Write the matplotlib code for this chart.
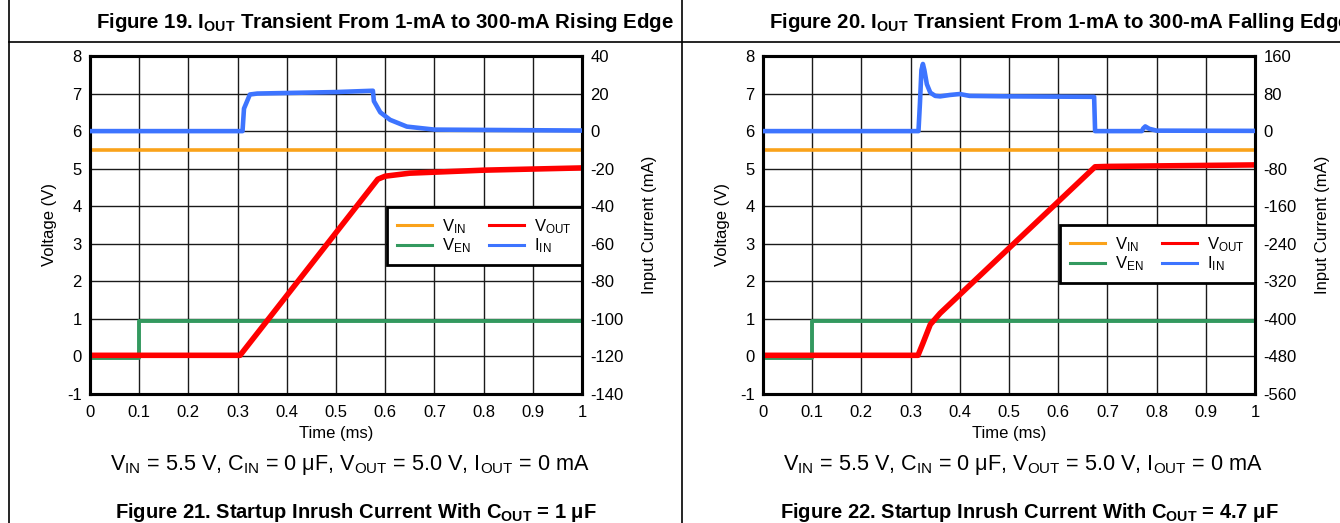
import matplotlib
matplotlib.use("Agg")
import matplotlib.pyplot as plt
from matplotlib.lines import Line2D

plt.rcParams['font.family'] = ['Liberation Sans', 'DejaVu Sans']
plt.rcParams['mathtext.fontset'] = 'custom'
plt.rcParams['mathtext.rm'] = 'Liberation Sans'
plt.rcParams['mathtext.it'] = 'Liberation Sans:italic'
plt.rcParams['mathtext.bf'] = 'Liberation Sans:bold'
plt.rcParams['axes.unicode_minus'] = False

# ---------------- data ----------------
# Figure 21 (C_OUT = 1 uF)
t_vin_21 = [0.0, 1.0]
vin_21 = [5.5, 5.5]
t_ven_21 = [0.0, 0.1, 0.1, 1.0]
ven_21 = [-0.05, -0.05, 0.94, 0.94]
t_vout_21 = [0.0, 0.305, 0.585, 0.60, 0.65, 0.80, 1.0]
vout_21 = [0.03, 0.03, 4.72, 4.80, 4.88, 4.96, 5.02]
t_iin_21 = [0.0, 0.310, 0.313, 0.325, 0.34, 0.40, 0.50, 0.575, 0.577, 0.59, 0.61, 0.644, 0.70, 1.0]
iin_21 = [0.0, 0.0, 12.0, 19.5, 20.0, 20.3, 20.8, 21.5, 16.0, 10.0, 6.0, 2.4, 0.8, 0.3]

# Figure 22 (C_OUT = 4.7 uF)
t_vin_22 = [0.0, 1.0]
vin_22 = [5.5, 5.5]
t_ven_22 = [0.0, 0.1, 0.1, 1.0]
ven_22 = [-0.05, -0.05, 0.94, 0.94]
t_vout_22 = [0.0, 0.315, 0.325, 0.34, 0.36, 0.675, 0.70, 1.0]
vout_22 = [0.03, 0.03, 0.35, 0.85, 1.15, 5.05, 5.06, 5.10]
t_iin_22 = [0.0, 0.316, 0.319, 0.322, 0.325, 0.328, 0.333, 0.34, 0.35, 0.36, 0.38, 0.40,
            0.42, 0.50, 0.673, 0.675, 0.77, 0.773, 0.777, 0.785, 0.80, 1.0]
iin_22 = [0.0, 0.0, 60.0, 130.0, 143.0, 130.0, 100.0, 82.0, 75.0, 74.0, 77.0, 79.0,
          75.0, 74.0, 73.0, 0.0, 0.0, 6.0, 10.0, 5.0, 1.0, 0.5]

xticks = [0, 0.1, 0.2, 0.3, 0.4, 0.5, 0.6, 0.7, 0.8, 0.9, 1]
xtick_labels = ['0', '0.1', '0.2', '0.3', '0.4', '0.5', '0.6', '0.7', '0.8', '0.9', '1']
v_ticks = [-1, 0, 1, 2, 3, 4, 5, 6, 7, 8]
i_ticks_21 = [-140, -120, -100, -80, -60, -40, -20, 0, 20, 40]
i_ticks_22 = [-560, -480, -400, -320, -240, -160, -80, 0, 80, 160]

C_VIN = '#FAA21A'
C_VEN = '#33995F'
C_VOUT = '#FF0000'
C_IIN = '#3D74FF'

W, H = 1340, 523
fig = plt.figure(figsize=(W / 100, H / 100), dpi=100)

FS_TICK = 12
FS_LAB = 12


def fx(px):
    return px / W


def fy(py):
    return 1 - py / H


def make_panel(x0, tv, vv, te, ve, to, vo, ti, vi, iticks, legend_top, title, caption, figcap):
    ax = fig.add_axes([fx(x0), fy(394), fx(492), 338 / H])
    ax.set_xlim(0, 1)
    ax.set_ylim(-1, 8)
    ax.set_xticks(xticks)
    ax.set_xticklabels(xtick_labels)
    ax.set_yticks(v_ticks)
    ax.grid(True, color='#1a1a1a', linewidth=1.0)
    ax.set_axisbelow(True)
    for s in ax.spines.values():
        s.set_linewidth(2.2)
        s.set_color('black')
    ax.tick_params(length=0, labelsize=FS_TICK, pad=6)
    ax.tick_params(axis='x', pad=8)
    ax.set_xlabel('Time (ms)', fontsize=FS_LAB, labelpad=4)
    ax.set_ylabel('Voltage (V)', fontsize=FS_LAB, labelpad=7)

    l1, = ax.plot(tv, vv, color=C_VIN, lw=2.6, label=r'V$_{\mathrm{IN}}$', zorder=3)
    l2, = ax.plot(te, ve, color=C_VEN, lw=2.8, label=r'V$_{\mathrm{EN}}$', zorder=3)
    l3, = ax.plot(to, vo, color=C_VOUT, lw=4.0, label=r'V$_{\mathrm{OUT}}$', zorder=4)

    ax2 = ax.twinx()
    ax2.set_ylim(iticks[0], iticks[-1])
    ax2.set_yticks(iticks)
    ax2.tick_params(length=0, labelsize=FS_TICK, pad=6)
    for s in ax2.spines.values():
        s.set_linewidth(2.2)
        s.set_color('black')
    ax2.set_ylabel('Input Current (mA)', fontsize=FS_LAB, labelpad=13)
    l4, = ax2.plot(ti, vi, color=C_IIN, lw=3.3, label=r'I$_{\mathrm{IN}}$', zorder=3)

    leg = ax2.legend(handles=[l1, l2, l3, l4], ncol=2, loc='upper left',
                     bbox_to_anchor=(0.604, legend_top, 0.396, 0.0), mode='expand',
                     fontsize=12, frameon=True, fancybox=False, framealpha=1,
                     edgecolor='black', handlelength=2.1, handletextpad=0.6,
                     columnspacing=0.9, labelspacing=0.05, borderpad=0.6,
                     borderaxespad=0)
    leg.get_frame().set_linewidth(2.0)
    for h in leg.get_lines():
        h.set_linewidth(2.2)

    fig.text(fx(x0 + 6), fy(22), title, fontsize=14.7, fontweight='bold',
             ha='left', va='center')
    fig.text(fx(x0 + 260), fy(465), caption, fontsize=15.6, ha='center', va='center')
    fig.text(fx(x0 + 266), fy(512), figcap, fontsize=14.5, fontweight='bold',
             ha='center', va='center')
    return ax


make_panel(90, t_vin_21, vin_21, t_ven_21, ven_21, t_vout_21, vout_21, t_iin_21, iin_21,
           i_ticks_21, 0.553,
           r'Figure 19. I$_{\mathbf{OUT}}$ Transient From 1-mA to 300-mA Rising Edge',
           r'V$_{\mathrm{IN}}$ = 5.5 V, C$_{\mathrm{IN}}$ = 0 μF, V$_{\mathrm{OUT}}$ = 5.0 V, I$_{\mathrm{OUT}}$ = 0 mA',
           r'Figure 21. Startup Inrush Current With C$_{\mathbf{OUT}}$ = 1 μF')
make_panel(763, t_vin_22, vin_22, t_ven_22, ven_22, t_vout_22, vout_22, t_iin_22, iin_22,
           i_ticks_22, 0.500,
           r'Figure 20. I$_{\mathbf{OUT}}$ Transient From 1-mA to 300-mA Falling Edge',
           r'V$_{\mathrm{IN}}$ = 5.5 V, C$_{\mathrm{IN}}$ = 0 μF, V$_{\mathrm{OUT}}$ = 5.0 V, I$_{\mathrm{OUT}}$ = 0 mA',
           r'Figure 22. Startup Inrush Current With C$_{\mathbf{OUT}}$ = 4.7 μF')

# page rules
fig.add_artist(Line2D([fx(8.5), fx(8.5)], [0, 1], transform=fig.transFigure, color='black', lw=1.2))
fig.add_artist(Line2D([fx(681.5), fx(681.5)], [0, 1], transform=fig.transFigure, color='black', lw=1.2))
fig.add_artist(Line2D([fx(8.5), 1], [fy(42.5), fy(42.5)], transform=fig.transFigure, color='black', lw=1.2))

fig.savefig('out.png', dpi=100)
